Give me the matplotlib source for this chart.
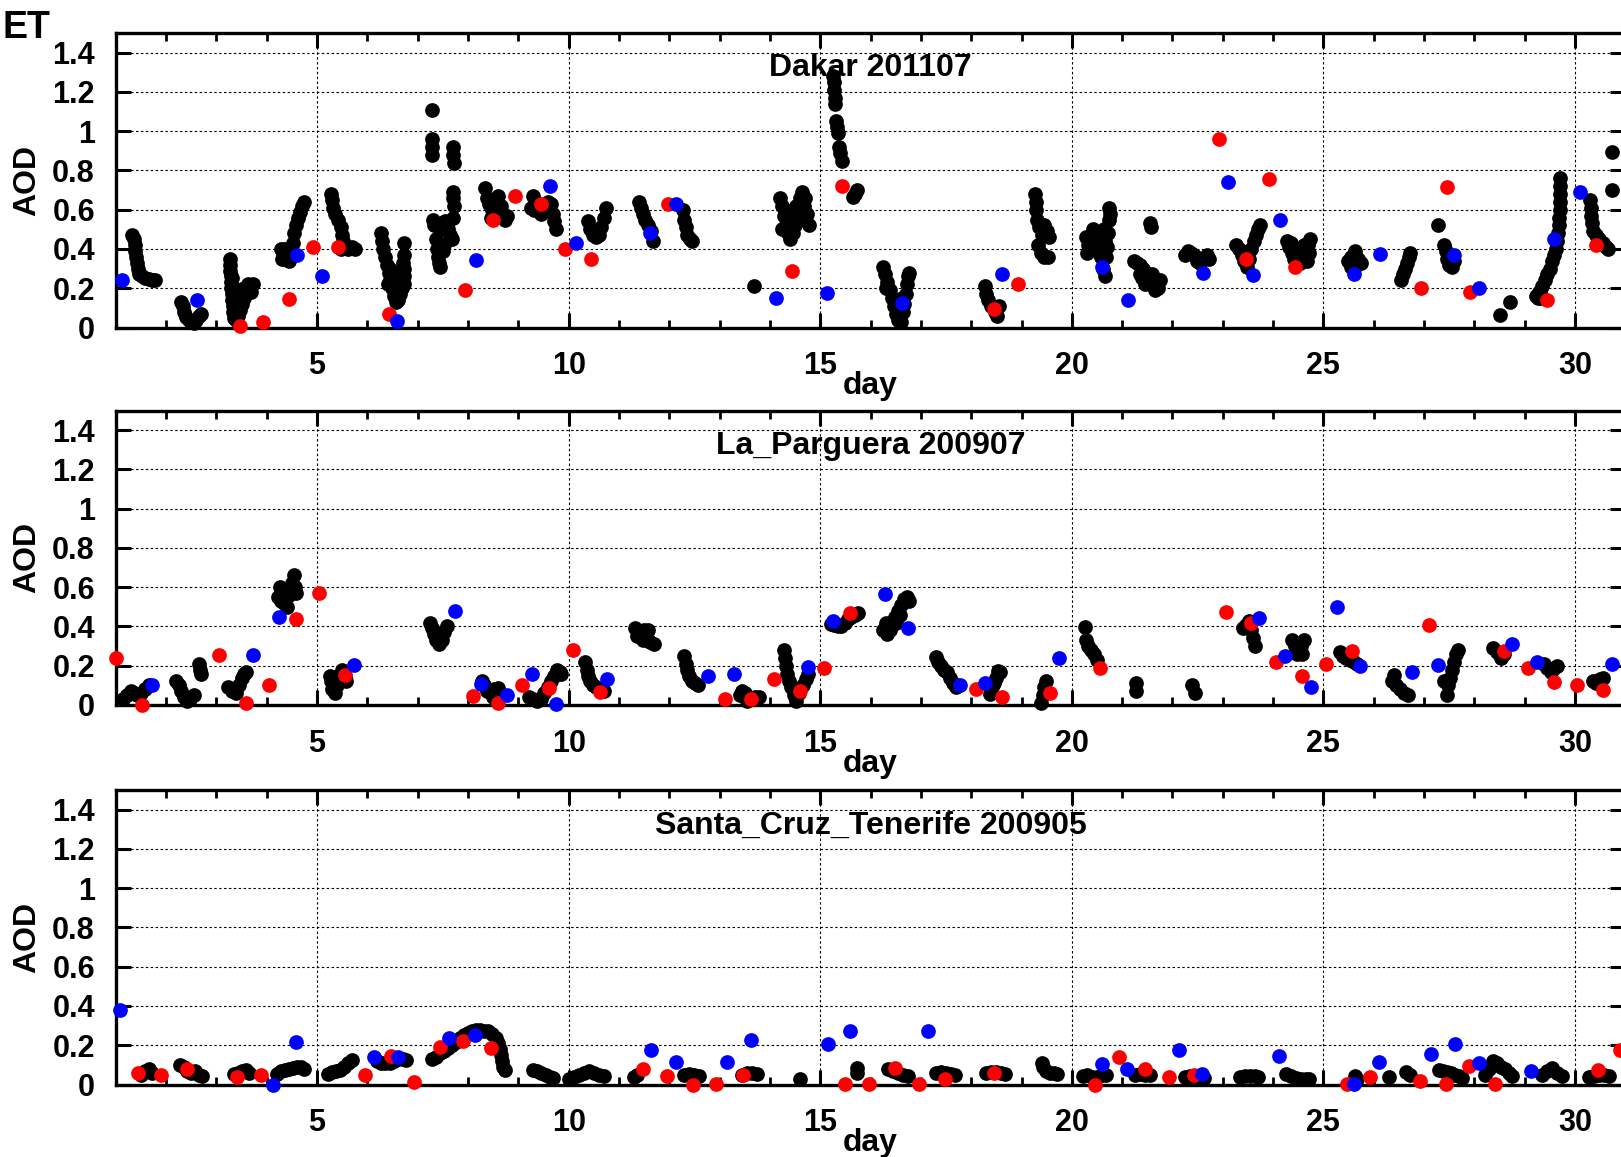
import matplotlib
matplotlib.use("Agg")
import matplotlib.pyplot as plt
from matplotlib.ticker import MultipleLocator, FuncFormatter

plt.rcParams['font.family'] = ['Liberation Sans', 'DejaVu Sans']
plt.rcParams['font.weight'] = 'bold'

# ---------------- data (day, AOD) ----------------
titles = ["Dakar 201107", "La_Parguera 200907", "Santa_Cruz_Tenerife 200905"]

dakar_black = [
    (1.33,0.47),(1.36,0.45),(1.38,0.42),(1.38,0.39),(1.40,0.36),(1.42,0.33),(1.44,0.30),(1.46,0.27),
    (1.52,0.26),(1.58,0.25),(1.65,0.245),(1.72,0.24),(1.78,0.24),
    (2.30,0.13),(2.33,0.11),(2.36,0.08),(2.40,0.055),(2.45,0.04),(2.50,0.03),(2.55,0.025),(2.60,0.04),
    (2.66,0.06),(2.70,0.07),
    (3.26,0.35),(3.27,0.32),(3.27,0.29),(3.28,0.26),(3.28,0.23),(3.29,0.20),(3.30,0.17),(3.31,0.14),
    (3.32,0.11),(3.33,0.08),(3.35,0.05),(3.38,0.04),(3.42,0.06),(3.46,0.09),(3.50,0.12),(3.55,0.15),
    (3.60,0.18),(3.66,0.20),(3.72,0.22),(3.36,0.16),(3.40,0.13),(3.45,0.18),
    (3.30,0.25),(3.34,0.20),(3.38,0.10),(3.42,0.15),(3.50,0.17),(3.55,0.20),(3.62,0.22),(3.68,0.18),
    (4.28,0.40),(4.32,0.38),(4.38,0.35),(4.44,0.34),(4.50,0.38),(4.52,0.43),(4.55,0.48),(4.58,0.52),
    (4.62,0.56),(4.66,0.59),(4.70,0.62),(4.75,0.64),(4.35,0.40),(4.30,0.35),(4.36,0.36),(4.42,0.37),
    (5.28,0.68),(5.30,0.65),(5.32,0.61),(5.36,0.58),(5.42,0.55),(5.47,0.51),(5.50,0.47),(5.52,0.44),
    (5.55,0.41),(5.62,0.40),(5.70,0.41),(5.76,0.40),(5.48,0.40),
    (6.28,0.48),(6.30,0.44),(6.32,0.40),(6.35,0.36),(6.38,0.32),(6.42,0.28),(6.45,0.24),(6.48,0.20),
    (6.52,0.16),(6.56,0.13),(6.60,0.14),(6.64,0.17),(6.68,0.20),(6.72,0.22),(6.72,0.26),(6.73,0.30),
    (6.70,0.33),(6.72,0.37),(6.73,0.43),(6.62,0.18),(6.55,0.19),
    (6.40,0.22),(6.50,0.22),(6.58,0.22),(6.65,0.25),(6.68,0.28),(6.45,0.30),
    (7.28,1.11),(7.29,0.96),(7.29,0.92),(7.29,0.88),(7.30,0.55),(7.33,0.52),(7.38,0.40),(7.40,0.36),
    (7.42,0.33),(7.44,0.31),(7.50,0.39),(7.52,0.42),(7.45,0.50),(7.48,0.53),(7.55,0.54),(7.60,0.50),
    (7.65,0.47),(7.68,0.45),(7.71,0.92),(7.71,0.88),(7.72,0.84),(7.71,0.69),(7.71,0.66),(7.72,0.62),
    (7.71,0.56),(7.36,0.45),(7.40,0.52),(7.58,0.52),
    (8.33,0.71),(8.38,0.66),(8.42,0.63),(8.47,0.60),(8.52,0.58),(8.58,0.62),(8.60,0.67),(8.65,0.62),
    (8.70,0.58),(8.74,0.55),(8.78,0.57),(8.45,0.56),
    (9.26,0.61),(9.30,0.67),(9.35,0.64),(9.40,0.60),(9.45,0.58),(9.50,0.62),(9.58,0.64),(9.65,0.63),
    (9.68,0.58),(9.71,0.54),(9.75,0.50),(9.32,0.60),
    (10.38,0.54),(10.42,0.50),(10.48,0.47),(10.54,0.46),(10.60,0.47),(10.65,0.51),(10.70,0.56),(10.75,0.61),
    (11.40,0.64),(11.44,0.61),(11.48,0.58),(11.52,0.55),(11.58,0.52),(11.63,0.49),(11.68,0.44),
    (12.28,0.60),(12.30,0.55),(12.33,0.51),(12.36,0.47),(12.42,0.45),(12.46,0.44),
    (13.68,0.21),
    (14.20,0.66),(14.25,0.62),(14.28,0.57),(14.32,0.52),(14.36,0.48),(14.40,0.45),(14.45,0.48),(14.50,0.52),
    (14.55,0.58),(14.60,0.66),(14.63,0.69),(14.68,0.62),(14.74,0.58),(14.77,0.52),(14.25,0.50),
    (14.30,0.60),(14.35,0.56),(14.42,0.54),(14.48,0.58),(14.52,0.62),(14.58,0.55),(14.70,0.66),
    (15.26,1.28),(15.27,1.25),(15.28,1.21),(15.29,1.17),(15.30,1.14),(15.32,1.05),(15.34,1.02),(15.36,0.99),
    (15.38,0.92),(15.40,0.89),(15.43,0.85),(15.66,0.665),(15.70,0.68),(15.73,0.70),
    (16.24,0.31),(16.28,0.27),(16.32,0.23),(16.38,0.19),(16.42,0.15),(16.46,0.11),(16.50,0.07),(16.55,0.04),
    (16.60,0.03),(16.64,0.08),(16.67,0.12),(16.70,0.17),(16.72,0.22),(16.74,0.26),(16.76,0.28),
    (16.30,0.20),(16.62,0.15),(16.58,0.08),
    (18.28,0.21),(18.30,0.17),(18.33,0.14),(18.40,0.11),(18.48,0.08),(18.52,0.06),(18.55,0.11),
    (19.27,0.68),(19.28,0.64),(19.29,0.60),(19.30,0.55),(19.35,0.51),(19.40,0.47),(19.45,0.52),(19.50,0.49),
    (19.55,0.46),(19.38,0.38),(19.45,0.36),(19.52,0.36),(19.33,0.42),
    (20.28,0.46),(20.32,0.42),(20.30,0.38),(20.38,0.40),(20.43,0.50),(20.50,0.46),(20.55,0.42),(20.62,0.40),
    (20.66,0.44),(20.70,0.41),(20.72,0.48),(20.74,0.55),(20.76,0.58),(20.74,0.61),(20.66,0.26),(20.62,0.30),
    (20.58,0.36),(20.35,0.45),(20.45,0.44),(20.55,0.38),(20.68,0.36),(20.64,0.50),
    (21.23,0.34),(21.29,0.33),(21.35,0.32),(21.42,0.30),(21.48,0.28),(21.54,0.26),(21.60,0.22),(21.66,0.19),
    (21.72,0.20),(21.75,0.24),(21.56,0.53),(21.58,0.51),(21.40,0.25),(21.46,0.22),
    (21.35,0.27),(21.50,0.24),(21.60,0.27),
    (22.25,0.37),(22.30,0.39),(22.36,0.38),(22.42,0.37),(22.48,0.34),(22.55,0.33),(22.62,0.35),(22.68,0.37),
    (22.72,0.35),
    (23.26,0.42),(23.32,0.40),(23.38,0.37),(23.43,0.34),(23.48,0.31),(23.52,0.35),(23.57,0.40),(23.62,0.44),
    (23.66,0.47),(23.70,0.50),(23.74,0.52),
    (24.27,0.44),(24.32,0.41),(24.37,0.38),(24.42,0.35),(24.48,0.33),(24.54,0.33),(24.60,0.36),(24.65,0.39),
    (24.70,0.42),(24.74,0.45),(24.68,0.34),(24.35,0.43),(24.45,0.40),(24.55,0.38),(24.62,0.42),(24.72,0.38),
    (25.48,0.34),(25.55,0.36),(25.62,0.39),(25.68,0.35),(25.74,0.33),(25.60,0.30),(25.54,0.31),
    (26.55,0.24),(26.58,0.27),(26.62,0.30),(26.66,0.33),(26.70,0.36),(26.72,0.38),
    (27.28,0.52),(27.40,0.42),(27.44,0.39),(27.46,0.35),(27.50,0.32),(27.55,0.31),(27.60,0.34),
    (28.50,0.065),(28.70,0.13),
    (29.22,0.16),(29.26,0.15),(29.30,0.18),(29.35,0.21),(29.40,0.24),(29.45,0.27),(29.50,0.30),(29.54,0.34),
    (29.58,0.37),(29.62,0.40),(29.65,0.44),(29.67,0.48),(29.68,0.52),(29.69,0.56),(29.70,0.60),(29.70,0.64),
    (29.70,0.68),(29.71,0.72),(29.71,0.76),(29.32,0.15),(29.28,0.18),
    (30.30,0.65),(30.31,0.61),(30.32,0.57),(30.33,0.53),(30.36,0.49),(30.42,0.47),(30.48,0.45),(30.55,0.43),
    (30.62,0.41),(30.66,0.40),(30.73,0.895),(30.73,0.70),
]
dakar_red = [
    (3.47,0.01),(3.93,0.03),(4.45,0.145),(4.91,0.41),(5.42,0.41),(6.42,0.07),(7.94,0.19),(8.50,0.55),
    (8.94,0.67),(9.46,0.63),(9.92,0.40),(10.45,0.35),(11.97,0.63),(14.44,0.29),(15.43,0.72),(18.46,0.095),
    (18.93,0.22),(22.93,0.96),(23.46,0.35),(23.92,0.755),(24.44,0.31),(26.94,0.20),(27.46,0.715),
    (27.91,0.18),(29.44,0.14),(30.42,0.42),
]
dakar_blue = [
    (1.12,0.24),(2.61,0.14),(4.60,0.37),(5.09,0.26),(6.58,0.035),(8.15,0.345),(9.63,0.72),(10.14,0.43),
    (11.62,0.48),(12.14,0.63),(14.13,0.15),(15.13,0.175),(16.62,0.125),(18.61,0.27),(20.60,0.31),
    (21.11,0.14),(22.60,0.28),(23.10,0.74),(23.61,0.265),(24.13,0.55),(25.61,0.27),(26.13,0.375),
    (27.60,0.37),(28.10,0.20),(29.58,0.45),(30.10,0.69),
]

parguera_black = [
    (1.15,0.03),(1.22,0.05),(1.30,0.07),(1.36,0.06),(1.42,0.05),(1.50,0.06),(1.58,0.08),(1.65,0.10),
    (2.20,0.12),(2.25,0.10),(2.30,0.07),(2.36,0.04),(2.42,0.02),(2.48,0.03),(2.55,0.05),(2.66,0.21),
    (2.68,0.18),(2.70,0.16),
    (3.22,0.09),(3.30,0.07),(3.38,0.06),(3.44,0.10),(3.50,0.14),(3.55,0.16),(3.58,0.17),
    (4.22,0.55),(4.26,0.60),(4.30,0.57),(4.35,0.52),(4.40,0.50),(4.45,0.56),(4.50,0.62),(4.54,0.66),
    (4.56,0.60),(4.58,0.57),(4.28,0.53),(4.40,0.58),(4.48,0.60),
    (5.25,0.15),(5.27,0.12),(5.30,0.08),(5.35,0.06),(5.40,0.10),(5.45,0.14),(5.50,0.18),(5.55,0.15),(5.58,0.12),
    (5.32,0.14),(5.42,0.15),
    (7.24,0.42),(7.28,0.39),(7.32,0.36),(7.36,0.33),(7.42,0.31),(7.48,0.33),(7.53,0.37),(7.58,0.40),
    (8.27,0.12),(8.32,0.10),(8.38,0.07),(8.45,0.06),(8.52,0.08),(8.60,0.085),(8.50,0.04),
    (9.22,0.04),(9.30,0.03),(9.38,0.02),(9.45,0.03),(9.52,0.06),(9.58,0.09),(9.64,0.12),(9.70,0.15),
    (9.76,0.18),(9.82,0.17),(9.85,0.16),
    (10.33,0.22),(10.36,0.18),(10.38,0.15),(10.42,0.12),(10.48,0.10),(10.55,0.09),(10.62,0.08),(10.70,0.07),
    (11.32,0.39),(11.40,0.37),(11.50,0.38),(11.58,0.38),(11.48,0.33),(11.55,0.34),(11.62,0.32),(11.70,0.31),
    (11.45,0.36),(11.35,0.35),
    (12.30,0.25),(12.33,0.21),(12.36,0.18),(12.40,0.15),(12.45,0.12),(12.52,0.11),(12.58,0.10),
    (13.40,0.05),(13.45,0.07),(13.50,0.06),(13.55,0.02),(13.62,0.03),(13.70,0.04),(13.78,0.04),
    (14.28,0.28),(14.29,0.24),(14.31,0.20),(14.34,0.16),(14.38,0.12),(14.42,0.09),(14.47,0.05),(14.52,0.02),
    (14.58,0.06),(14.65,0.10),(14.72,0.13),(14.76,0.16),
    (15.22,0.415),(15.28,0.41),(15.35,0.40),(15.42,0.40),(15.50,0.42),(15.56,0.44),(15.62,0.45),(15.70,0.46),
    (15.76,0.47),
    (16.25,0.38),(16.32,0.36),(16.38,0.38),(16.42,0.42),(16.48,0.45),(16.54,0.48),(16.60,0.51),(16.66,0.54),
    (16.72,0.55),(16.76,0.53),(16.30,0.42),(16.40,0.40),(16.50,0.42),(16.58,0.46),
    (17.30,0.245),(17.35,0.22),(17.40,0.20),(17.46,0.18),(17.52,0.17),(17.58,0.14),(17.64,0.11),(17.70,0.09),
    (18.38,0.055),(18.42,0.09),(18.46,0.11),(18.50,0.14),(18.53,0.175),(18.57,0.17),
    (19.38,0.01),(19.42,0.05),(19.45,0.09),(19.48,0.12),
    (20.26,0.395),(20.28,0.33),(20.32,0.30),(20.38,0.28),(20.44,0.26),(20.50,0.23),
    (21.28,0.11),(21.28,0.07),(22.38,0.10),(22.44,0.06),
    (23.40,0.39),(23.46,0.41),(23.52,0.43),(23.56,0.38),(23.60,0.34),(23.65,0.30),
    (24.38,0.33),(24.44,0.30),(24.48,0.26),(24.55,0.30),(24.62,0.33),(24.58,0.26),
    (25.32,0.27),(25.38,0.25),(25.45,0.24),(25.52,0.23),(25.60,0.22),(25.66,0.21),
    (26.36,0.12),(26.40,0.155),(26.45,0.10),(26.52,0.08),(26.60,0.06),(26.68,0.05),
    (27.40,0.12),(27.45,0.05),(27.48,0.10),(27.52,0.14),(27.56,0.18),(27.60,0.22),(27.64,0.26),(27.67,0.28),
    (28.38,0.29),(28.45,0.27),(28.52,0.24),(28.58,0.26),
    (29.38,0.21),(29.45,0.19),(29.52,0.17),(29.58,0.19),(29.64,0.20),
    (30.35,0.12),(30.42,0.11),(30.50,0.13),(30.56,0.14),
]
parguera_red = [
    (1.00,0.24),(1.53,0.0),(3.05,0.255),(3.59,0.01),(4.05,0.10),(4.58,0.44),(5.04,0.57),(5.56,0.155),
    (8.10,0.046),(8.60,0.01),(9.07,0.10),(9.61,0.085),(10.08,0.28),(10.62,0.067),(13.11,0.03),(13.63,0.03),
    (14.08,0.13),(14.60,0.07),(15.08,0.19),(15.59,0.47),(18.10,0.08),(18.61,0.04),(19.57,0.06),(20.57,0.19),
    (23.07,0.475),(23.57,0.42),(24.06,0.22),(24.57,0.15),(25.05,0.21),(25.57,0.275),(27.09,0.41),
    (28.58,0.275),(29.06,0.186),(29.59,0.115),(30.05,0.10),(30.55,0.077),
]
parguera_blue = [
    (1.71,0.10),(3.72,0.255),(4.25,0.45),(5.73,0.205),(7.74,0.48),(8.25,0.106),(8.77,0.05),(9.27,0.16),
    (9.75,0.005),(10.77,0.13),(12.77,0.15),(13.28,0.16),(14.75,0.195),(15.26,0.43),(16.29,0.565),
    (16.74,0.39),(17.77,0.10),(18.28,0.11),(19.75,0.24),(23.72,0.445),(24.24,0.25),(24.76,0.09),
    (25.27,0.50),(25.72,0.20),(26.76,0.167),(27.27,0.206),(28.75,0.31),(29.25,0.218),(30.73,0.21),
]

tenerife_black = [
    (1.50,0.05),(1.58,0.07),(1.65,0.08),(1.72,0.06),
    (2.28,0.10),(2.35,0.09),(2.42,0.07),(2.50,0.06),(2.58,0.07),(2.66,0.05),(2.72,0.045),
    (3.35,0.055),(3.42,0.06),(3.50,0.07),(3.58,0.075),(3.65,0.06),
    (4.20,0.055),(4.28,0.07),(4.36,0.075),(4.44,0.08),(4.52,0.085),(4.60,0.09),(4.68,0.09),(4.74,0.08),
    (5.22,0.055),(5.30,0.065),(5.38,0.07),(5.46,0.075),(5.54,0.09),(5.62,0.11),(5.70,0.125),
    (6.20,0.12),(6.28,0.11),(6.36,0.11),(6.44,0.11),(6.52,0.12),(6.60,0.13),(6.70,0.13),(6.76,0.125),
    (7.28,0.13),(7.36,0.14),(7.44,0.16),(7.52,0.17),(7.60,0.185),(7.68,0.20),(7.76,0.215),(7.84,0.235),
    (7.92,0.25),(8.00,0.26),(8.08,0.27),(8.16,0.28),(8.24,0.28),(8.32,0.275),(8.40,0.27),(8.48,0.255),
    (8.55,0.235),(8.60,0.21),(8.64,0.18),(8.66,0.15),(8.68,0.12),(8.70,0.09),(8.74,0.075),
    (9.30,0.075),(9.38,0.07),(9.46,0.06),(9.54,0.05),(9.62,0.04),(9.68,0.035),
    (10.00,0.03),(10.10,0.04),(10.20,0.05),(10.30,0.06),(10.40,0.07),(10.50,0.06),(10.60,0.05),(10.70,0.045),
    (11.30,0.04),(11.36,0.05),
    (12.30,0.05),(12.40,0.055),(12.50,0.05),(12.60,0.045),
    (13.45,0.05),(13.55,0.06),(13.65,0.06),(13.75,0.055),
    (14.59,0.03),(15.74,0.085),(15.74,0.06),
    (16.35,0.08),(16.45,0.07),(16.55,0.06),(16.65,0.05),(16.74,0.045),
    (17.30,0.06),(17.40,0.065),(17.50,0.06),(17.60,0.055),(17.68,0.05),
    (18.30,0.06),(18.40,0.065),(18.50,0.065),(18.60,0.06),(18.68,0.055),
    (19.40,0.11),(19.43,0.09),(19.48,0.07),(19.56,0.06),(19.64,0.06),(19.70,0.055),
    (20.22,0.045),(20.30,0.05),(20.40,0.04),(20.50,0.04),(20.60,0.05),(20.68,0.05),
    (21.25,0.05),(21.35,0.055),(21.45,0.05),(21.55,0.05),
    (22.25,0.04),(22.35,0.045),(22.45,0.04),(22.55,0.04),(22.62,0.035),
    (23.35,0.04),(23.45,0.045),(23.55,0.045),(23.65,0.045),(23.70,0.04),
    (24.25,0.055),(24.35,0.045),(24.45,0.035),(24.55,0.03),(24.65,0.03),(24.72,0.03),
    (25.62,0.045),(25.66,0.03),(26.30,0.04),(26.65,0.065),(26.72,0.05),
    (27.30,0.075),(27.38,0.07),(27.46,0.065),(27.54,0.06),(27.62,0.05),(27.70,0.045),(27.76,0.035),
    (28.22,0.05),(28.30,0.08),(28.38,0.12),(28.45,0.11),(28.52,0.09),(28.60,0.08),(28.68,0.06),(28.75,0.045),
    (29.35,0.05),(29.45,0.07),(29.55,0.085),(29.65,0.06),(29.75,0.045),
    (30.28,0.04),(30.38,0.045),(30.48,0.05),(30.58,0.05),(30.68,0.045),
]
tenerife_red = [
    (1.44,0.057),(1.90,0.048),(2.41,0.08),(3.41,0.04),(3.89,0.048),(5.96,0.048),(6.46,0.147),(6.93,0.014),
    (7.45,0.19),(7.91,0.22),(8.45,0.185),(11.48,0.077),(11.95,0.043),(12.48,0.0),(12.93,0.003),
    (13.46,0.048),(15.50,0.003),(15.96,0.003),(16.48,0.085),(16.96,0.003),(17.47,0.026),(18.45,0.06),
    (20.46,0.0),(20.93,0.139),(21.46,0.079),(21.93,0.04),(22.43,0.048),(25.46,0.005),(25.93,0.04),
    (26.91,0.017),(27.44,0.005),(27.90,0.096),(28.41,0.005),(30.46,0.074),(30.89,0.176),
]
tenerife_blue = [
    (1.08,0.377),(4.12,0.0),(4.58,0.215),(6.13,0.142),(6.61,0.142),(7.62,0.236),(8.14,0.253),(11.63,0.174),
    (12.13,0.115),(13.15,0.115),(13.62,0.226),(15.15,0.205),(15.60,0.274),(17.14,0.274),(20.59,0.104),
    (21.10,0.079),(22.13,0.175),(22.58,0.053),(24.12,0.147),(25.61,0.005),(26.10,0.113),(27.13,0.156),
    (27.61,0.207),(28.09,0.108),(29.13,0.07),
]

yticks = [0, 0.2, 0.4, 0.6, 0.8, 1.0, 1.2, 1.4]
xlim = (1, 31)
ylim = (0, 1.5)

panels = [
    (titles[0], dakar_black, dakar_red, dakar_blue),
    (titles[1], parguera_black, parguera_red, parguera_blue),
    (titles[2], tenerife_black, tenerife_red, tenerife_blue),
]

# ---------------- figure ----------------
W, H = 1621, 1157
fig = plt.figure(figsize=(W / 100, H / 100), dpi=100)

left_px, right_px = 115.8, 1625.3
tops_px = [33.0, 410.5, 790.0]
height_px = 294.5

FS = 22
for i, (title, blk, red, blu) in enumerate(panels):
    top = tops_px[i]
    ax = fig.add_axes([left_px / W, 1 - (top + height_px) / H,
                       (right_px - left_px) / W, height_px / H])
    ax.set_xlim(*xlim)
    ax.set_ylim(*ylim)
    for pts, col in ((blk, 'black'), (red, '#ff0000'), (blu, '#0000ff')):
        xs = [p[0] for p in pts]
        ys = [p[1] for p in pts]
        ax.plot(xs, ys, linestyle='none', marker='o', ms=10.6, mfc=col, mec='none',
                clip_on=False, zorder=3)
    ax.xaxis.set_major_locator(MultipleLocator(5))
    ax.xaxis.set_minor_locator(MultipleLocator(1))
    ax.set_yticks(yticks)
    ax.yaxis.set_major_formatter(FuncFormatter(lambda v, p: '%g' % round(v, 2)))
    ax.xaxis.set_major_formatter(FuncFormatter(lambda v, p: '%g' % v))
    ax.tick_params(axis='both', which='major', direction='in', length=11, width=2.2,
                   top=True, right=True, labelsize=FS)
    ax.tick_params(axis='x', which='minor', direction='in', length=5.5, width=2.0,
                   top=True, bottom=True)
    ax.tick_params(axis='x', which='major', pad=17)
    ax.tick_params(axis='y', which='major', pad=15)
    for lab in ax.get_xticklabels() + ax.get_yticklabels():
        lab.set_fontweight('bold')
    for sp in ax.spines.values():
        sp.set_linewidth(2.4)
    ax.grid(True, which='major', color='black', linestyle=(0, (2.2, 2.2)), linewidth=0.8)
    ax.set_axisbelow(True)
    ax.text(0.5, 0.88, title, transform=ax.transAxes, ha='center', va='center',
            fontsize=FS + 1, fontweight='bold', zorder=5)
    ax.set_xlabel('day', fontsize=FS + 1, fontweight='bold', va='center')
    ax.xaxis.set_label_coords(0.5, -0.2)
    ax.set_ylabel('AOD', fontsize=FS + 1, fontweight='bold', va='center')
    ax.yaxis.set_label_coords((27 - left_px) / (right_px - left_px), 0.5)

fig.text(2.5 / W, 1 - 28.5 / H, 'ET', fontsize=27, fontweight='bold', ha='left', va='center')

fig.savefig('out.png', dpi=100)
